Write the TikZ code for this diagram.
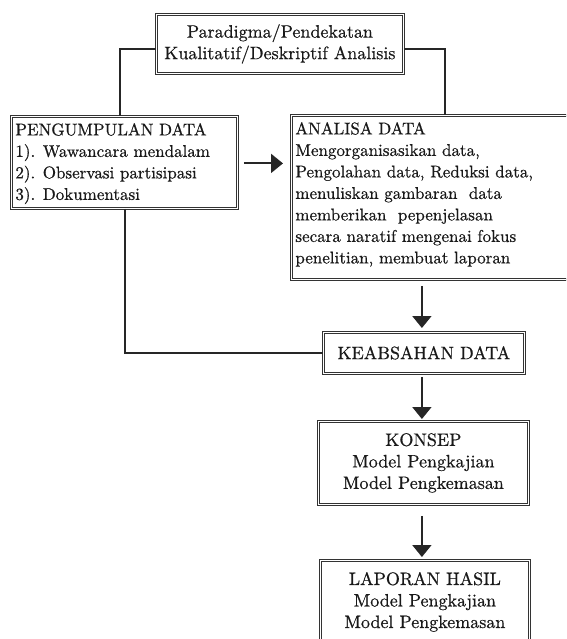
\documentclass[tikz,border=0pt]{standalone}
\usepackage{fontspec}
\setmainfont{lmroman10-regular.otf}[FakeBold=0.6]
\usetikzlibrary{arrows.meta}
\begin{document}
\tikzset{
  box/.style={draw=black!80, line width=0.8pt, double=white, double distance=1.3pt,
    text=black!90, anchor=north west, inner xsep=4pt, inner ysep=0pt,
    font=\fontsize{17pt}{21.5pt}\selectfont},
  bigbox/.style={box, font=\fontsize{18pt}{21.5pt}\selectfont},
  conn/.style={line width=2pt, draw=black!85},
  arr/.style={conn, -{Triangle[length=12pt,width=19pt]}},
}
\begin{tikzpicture}[x=1pt,y=-1pt]
\useasboundingbox (0,0) rectangle (566,639);
\clip (0,0) rectangle (566,639);
% boxes
\node[bigbox] (top) at (156,14)
  {\parbox[c][59pt][c]{239pt}{\centering Paradigma/Pendekatan\\Kualitatif/Deskriptif Analisis}};
\node[box] (peng) at (11,116)
  {\parbox[c][92pt][t]{218pt}{\raggedright\rule{0pt}{19pt}PENGUMPULAN DATA\\
   1). Wawancara mendalam\\2). Observasi partisipasi\\3). Dokumentasi}};
\node[box] (ana) at (291,115)
  {\parbox[c][164pt][t]{300pt}{\raggedright\rule{0pt}{19pt}ANALISA DATA\\
   Mengorganisasikan data,\\Pengolahan data, Reduksi data,\\menuliskan gambaran~ data\\
   memberikan~ pepenjelasan\\secara naratif mengenai fokus\\penelitian, membuat laporan}};
\node[bigbox] (keab) at (323,332)
  {\parbox[c][41pt][c]{193pt}{\centering KEABSAHAN DATA}};
\node[bigbox] (konsep) at (318,421)
  {\parbox[c][83pt][c]{202pt}{\centering KONSEP\\Model Pengkajian\\Model Pengkemasan}};
\node[bigbox] (laporan) at (320,560)
  {\parbox[c][83pt][c]{201pt}{\centering LAPORAN HASIL\\Model Pengkajian\\Model Pengkemasan}};
% connectors
\draw[conn] ([yshift=-5pt]top.west) -| ([xshift=109pt]peng.north west);
\draw[conn] ([yshift=-5pt]top.east) -| ([xshift=154pt]ana.north west);
\draw[arr] ([xshift=6pt,yshift=-1pt]peng.east) -- ([xshift=-8pt,yshift=-1pt]peng.east -| ana.west);
\draw[conn] ([xshift=114pt]peng.south west) |- (keab.west);
\draw[arr] ([xshift=-2pt,yshift=-6pt]ana.south -| keab.north) -- ([xshift=-2pt,yshift=4pt]keab.north);
\draw[arr] ([xshift=-2pt,yshift=-3pt]keab.south) -- ([xshift=-1.5pt,yshift=2pt]konsep.north);
\draw[arr] ([xshift=-1.5pt,yshift=-11pt]konsep.south) -- ([xshift=-3pt,yshift=3pt]laporan.north);
\end{tikzpicture}
\end{document}
